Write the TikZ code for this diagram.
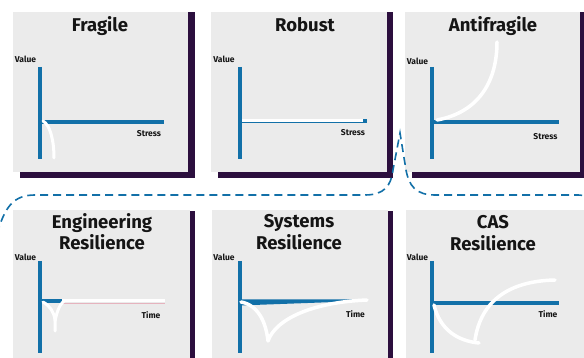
\documentclass[tikz,border=0pt]{standalone}
\usepackage{fontspec}
\setmainfont{Fira Sans}
\definecolor{panelgray}{HTML}{EBEBEB}
\definecolor{shadowpurple}{HTML}{2C0F3E}
\definecolor{axisblue}{HTML}{1270A8}
\definecolor{inkdark}{HTML}{151515}
\definecolor{faintpink}{HTML}{E6B3BE}
\begin{document}
\begin{tikzpicture}[x=1pt,y=-1pt,
  panel/.style={fill=panelgray,draw=none},
  shadow/.style={fill=shadowpurple,draw=none},
  axis/.style={draw=axisblue,line width=4pt},
  curve/.style={draw=white,line width=3.5pt,line cap=round},
  title/.style={anchor=base,text=inkdark,font=\fontsize{18.5}{22}\selectfont\bfseries,inner sep=0pt},
  axlabel/.style={text=inkdark,font=\fontsize{8.5}{10}\selectfont\bfseries,inner sep=0pt},
  bracket/.style={draw=axisblue,line width=1.6pt,dash pattern=on 8pt off 5pt}]
\clip (0,0) rectangle (584,358);
\fill[white] (0,0) rectangle (584,358);

% ---------- top row ----------
\fill[shadow] (20,12) rectangle (195,178);
\fill[panel] (13,12) rectangle (188,172);
\fill[shadow] (218,12) rectangle (393,178);
\fill[panel] (211,12) rectangle (387,172);
\fill[shadow] (412,12) rectangle (590,178);
\fill[panel] (405,12) rectangle (580,172);

% Fragile
\node[title] (t1) at (100,32) {Fragile};
\node[axlabel] (v1) at (25.5,59) {Value};
\node[axlabel] (s1) at (149,134) {Stress};
\draw[axis] (39.5,67) -- (39.5,159);
\draw[axis] (39.5,122) -- (164,122);
\draw[curve,line width=3pt] (43,121) .. controls (50,125) and (54,140) .. (54,158);

% Robust
\node[title] (t2) at (305,32) {Robust};
\node[axlabel] (v2) at (224,59) {Value};
\node[axlabel] (s2) at (353,133) {Stress};
\draw[axis] (240,67) -- (240,159);
\draw[axis] (240,121.5) -- (367,121.5);
\draw[draw=white,line width=3.3pt] (242,120.3) -- (363,120.3);

% Antifragile
\node[title] (t3) at (493,32) {Antifragile};
\node[axlabel] (v3) at (417.5,61.5) {Value};
\node[axlabel] (s3) at (545.5,137) {Stress};
\draw[axis] (432,67) -- (432,159);
\draw[axis] (432,122) -- (559,122);
\draw[curve] (437,120) .. controls (480,112) and (497,80) .. (497,42);

% ---------- bottom row ----------
\fill[shadow] (20,211) rectangle (195,365);
\fill[panel] (13,210) rectangle (190,365);
\fill[shadow] (219,211) rectangle (393,365);
\fill[panel] (212,210) rectangle (388,365);
\fill[panel] (406,210) rectangle (590,365);

% Engineering Resilience
\node[title] (t4a) at (102,229) {Engineering};
\node[title] (t4b) at (102,250) {Resilience};
\node[axlabel] (v4) at (25.5,257) {Value};
\node[axlabel] (m4) at (151,315) {Time};
\draw[axis] (39.5,261) -- (39.5,353);
\draw[axis] (39.5,301.5) -- (62,301.5);
\draw[draw=faintpink,line width=0.8pt] (62,303) -- (165,303);
\draw[draw=white,line width=3pt] (62,300.5) -- (165,300.5);
\draw[curve,line width=3pt] (43,302) .. controls (50,306) and (54,312) .. (55,320) -- (55,331);
\draw[curve,line width=3pt] (55,321) .. controls (57,311) and (60,304) .. (64,301);

% Systems Resilience
\node[title] (t5a) at (299,228) {Systems};
\node[title] (t5b) at (299,250) {Resilience};
\node[axlabel] (v5) at (224,257) {Value};
\node[axlabel] (m5) at (355.5,314) {Time};
\draw[axis] (239.5,261) -- (239.5,353);
\fill[axisblue] (239.5,299.5) -- (362,299.5) -- (362,301) -- (239.5,305.5) -- cycle;
\draw[curve,line join=round] (241,302) .. controls (258,305) and (266,322) .. (268,341)
  .. controls (276,318) and (315,302) .. (367,300);

% CAS Resilience
\node[title] (t6a) at (493,229) {CAS};
\node[title] (t6b) at (493,251) {Resilience};
\node[axlabel] (v6) at (417.5,257) {Value};
\node[axlabel] (m6) at (548,314) {Time};
\draw[axis] (432,261) -- (432,353);
\draw[axis] (432,303) -- (559,303);
\draw[curve] (434,305) .. controls (440,330) and (458,341) .. (479,343);
\draw[curve] (475,340) .. controls (481,300) and (510,281) .. (555,280);

% ---------- dashed brace between the rows ----------
\coordinate (bL) at (-3,234);
\coordinate (bTip) at (400,133);
\coordinate (bR) at (594,205);
\draw[bracket] (bL) .. controls (5,206) and (14,195) .. (35,195) -- (365,195)
  .. controls (384,195) and (391,186) .. (393,170) -- (bTip) -- (406,170)
  .. controls (409,186) and (416,195) .. (435,195) -- (578,195)
  .. controls (586,195) and (590,199) .. (bR);
\end{tikzpicture}
\end{document}
